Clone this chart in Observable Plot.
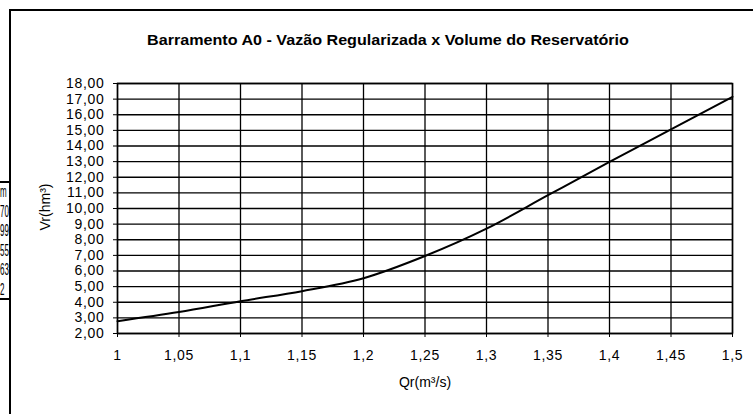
<!DOCTYPE html>
<html>
<head>
<meta charset="utf-8">
<script src="https://cdn.jsdelivr.net/npm/d3@7"></script>
<script src="https://cdn.jsdelivr.net/npm/@observablehq/plot@0.6"></script>
<style>
  html, body { margin: 0; padding: 0; background: #fff; }
  body { width: 753px; height: 414px; position: relative; overflow: hidden; font-family: "Liberation Sans", Arial, sans-serif; color: #000; }
  #frameTop { position: absolute; left: 9px; top: 9px; width: 744px; height: 0; border-top: 2px solid #000; }
  #frameLeft { position: absolute; left: 9px; top: 9px; width: 0; height: 405px; border-left: 2px solid #000; }
  #title { position: absolute; left: 0; top: 0; width: 753px; height: 60px; }
  #title span { position: absolute; left: 388px; top: 32px; transform: translateX(-50%) scaleX(1.12); white-space: nowrap; font-weight: bold; font-size: 14.4px; }
  #chart { position: absolute; left: 0; top: 60px; }
  #ylab { position: absolute; left: 45px; top: 207px; transform: translate(-50%, -50%) rotate(-90deg); font-size: 14px; white-space: nowrap; }
  #xlab { position: absolute; left: 425px; top: 382px; transform: translate(-50%, -50%); font-size: 14px; white-space: nowrap; }
  #table { position: absolute; left: 0; top: 181px; width: 9px; height: 115px; overflow: hidden; border-top: 2px solid #000; border-bottom: 2px solid #000; border-right: 2px solid #000; background: #fff; }
  #table div { position: absolute; left: 0; font-size: 16px; line-height: 17px; white-space: nowrap; transform-origin: 0 50%; transform: scaleX(0.5); }
</style>
</head>
<body>
<div id="title"><span>Barramento A0 - Vazão Regularizada x Volume do Reservatório</span></div>
<div id="chart"></div>
<div id="ylab">Vr(hm³)</div>
<div id="xlab">Qr(m³/s)</div>
<div id="frameTop"></div>
<div id="frameLeft"></div>
<div id="table"></div>
<script>
// Data
const qr = [1, 1.05, 1.1, 1.15, 1.2, 1.25, 1.3, 1.35, 1.4, 1.45, 1.5];
const vr = [2.79, 3.37, 4.07, 4.71, 5.54, 6.96, 8.71, 10.85, 12.98, 15.06, 17.15];
const xTicks = [1, 1.05, 1.1, 1.15, 1.2, 1.25, 1.3, 1.35, 1.4, 1.45, 1.5];
const yTicks = [2, 3, 4, 5, 6, 7, 8, 9, 10, 11, 12, 13, 14, 15, 16, 17, 18];
const tableFragments = ["m", "70", "99", "55", "63", "2"];

const data = qr.map((q, i) => ({q, v: vr[i]}));
const comma = s => String(s).replace(".", ",");

const chart = Plot.plot({
  width: 753,
  height: 354,
  marginLeft: 117,
  marginRight: 21,
  marginTop: 23,
  marginBottom: 81,
  style: {fontFamily: '"Liberation Sans", Arial, sans-serif', fontSize: "14px", color: "#000", background: "transparent"},
  x: {domain: [1, 1.5], ticks: xTicks, tickFormat: d => comma(+d.toFixed(2)), tickSize: 4, tickPadding: 13, label: null},
  y: {domain: [2, 18], ticks: yTicks, tickFormat: d => comma(d.toFixed(2)), tickSize: 4, tickPadding: 9, label: null},
  marks: [
    Plot.ruleX(xTicks, {stroke: "#000", strokeWidth: 1.3}),
    Plot.ruleY(yTicks, {stroke: "#000", strokeWidth: 1.3}),
    Plot.frame({stroke: "#000", strokeWidth: 1.5}),
    Plot.line(data, {x: "q", y: "v", stroke: "#000", strokeWidth: 2, curve: "catmull-rom"})
  ]
});
chart.querySelectorAll("text").forEach(t => t.setAttribute("letter-spacing", "0.7"));
document.getElementById("chart").appendChild(chart);

const table = document.getElementById("table");
const rowY = [0, 20, 39, 59, 78, 98];
tableFragments.forEach((s, i) => {
  const d = document.createElement("div");
  d.textContent = s;
  d.style.top = rowY[i] + "px";
  table.appendChild(d);
});
</script>
</body>
</html>
